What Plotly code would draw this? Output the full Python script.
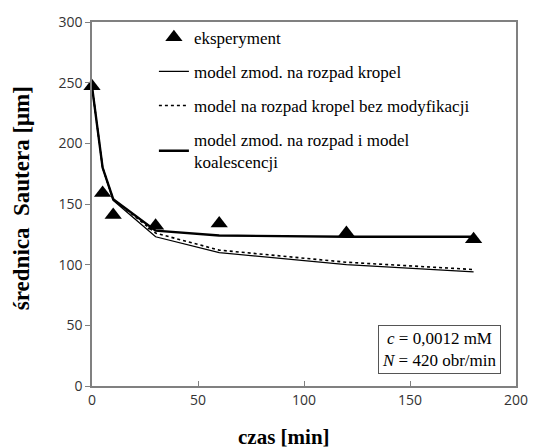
import plotly.graph_objects as go

t = [0, 5, 10, 30, 60, 120, 180]
exp_d = [247, 159, 141, 132, 134, 126, 121]
model_zmod = [247, 180, 153, 123, 110, 100, 94]
model_bez = [247, 180, 154, 126, 112, 102, 96]
model_koal = [247, 180, 154, 128, 124, 123, 123]

serif = "Times New Roman, Liberation Serif, serif"
sans = "Open Sans, Noto Sans, sans-serif"
fig = go.Figure()
fig.add_trace(go.Scatter(x=t, y=exp_d, mode="markers", name="eksperyment",
                         marker=dict(symbol="triangle-up", size=15, color="black"),
                         cliponaxis=False, legendgroup="a"))
fig.add_trace(go.Scatter(x=t, y=model_zmod, mode="lines", name="model zmod. na rozpad kropel",
                         line=dict(color="black", width=1.3), legendgroup="b"))
fig.add_trace(go.Scatter(x=t, y=model_bez, mode="lines", name="model na rozpad kropel bez modyfikacji",
                         line=dict(color="black", width=1.6, dash="dot"), legendgroup="c"))
fig.add_trace(go.Scatter(x=t, y=model_koal, mode="lines",
                         name="model zmod. na rozpad i model<br>koalescencji",
                         line=dict(color="black", width=2.4), legendgroup="d"))

fig.update_layout(
    width=540, height=448,
    margin=dict(l=92, r=15, t=19, b=62),
    paper_bgcolor="white", plot_bgcolor="white",
    showlegend=True,
    legend=dict(x=0.146, y=1.006, xanchor="left", yanchor="top",
                font=dict(family=serif, size=17, color="black"),
                bgcolor="rgba(0,0,0,0)", tracegroupgap=9,
                itemwidth=30),
    xaxis=dict(range=[0, 200], tickvals=[0, 50, 100, 150, 200],
               showgrid=False, zeroline=False,
               showline=True, linecolor="#808080", linewidth=1.5, mirror=True,
               ticks="inside", ticklen=5, tickcolor="#808080",
               tickfont=dict(family=sans, size=14, color="#333")),
    yaxis=dict(range=[0, 300], tickvals=[0, 50, 100, 150, 200, 250, 300],
               showgrid=False, zeroline=False,
               showline=True, linecolor="#808080", linewidth=1.5, mirror=True,
               ticks="outside", ticklen=5, tickcolor="#808080",
               tickfont=dict(family=sans, size=14, color="#333")),
)

fig.add_annotation(xref="paper", yref="paper", x=0.453, y=-0.139,
                   text="<b>czas [min]</b>", showarrow=False,
                   xanchor="center", yanchor="middle",
                   font=dict(family=serif, size=21, color="black"))
fig.add_annotation(xref="paper", yref="paper", x=-0.166, y=0.515,
                   text="<b>średnica\u00a0\u00a0Sautera [μm]</b>", showarrow=False,
                   textangle=-90, xanchor="center", yanchor="middle",
                   font=dict(family=serif, size=23, color="black"))

fig.add_annotation(xref="x", yref="y", x=164, y=30,
                   text="<i>c</i> = 0,0012 mM<br><i>N</i> = 420 obr/min",
                   showarrow=False, align="center",
                   font=dict(family=serif, size=17, color="black"),
                   bordercolor="#555", borderwidth=1, borderpad=3, bgcolor="white")

fig.write_html("out.html")
